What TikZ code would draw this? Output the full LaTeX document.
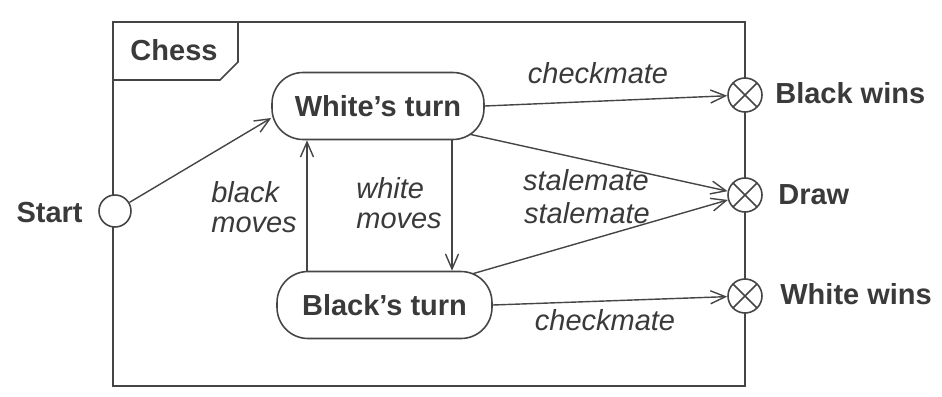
\documentclass[tikz,border=0pt]{standalone}
\usepackage{fontspec}
\setmainfont{Liberation Sans}
\usepackage{tikz}
\usetikzlibrary{calc,arrows.meta}
\usepackage{xcolor}
\definecolor{inkgray}{HTML}{454545}
\definecolor{txtgray}{HTML}{3A3A3A}

\tikzset{
  statebox/.style={draw=inkgray, line width=0.9pt, rounded corners=0.62cm,
    minimum height=1.34cm, font=\fontsize{16.5}{19}\selectfont\bfseries,
    text=txtgray, inner sep=0pt},
  endstate/.style={draw=inkgray, line width=0.9pt, circle, minimum size=0.68cm,
    inner sep=0pt, fill=white,
    path picture={\draw[inkgray, line width=0.9pt]
      (path picture bounding box.north west) -- (path picture bounding box.south east)
      (path picture bounding box.north east) -- (path picture bounding box.south west);}},
  trans/.style={draw=inkgray, line width=0.8pt,
    -{Straight Barb[length=3mm,width=2.6mm,line width=0.8pt]}},
  evlabel/.style={font=\fontsize{16.5}{19}\selectfont\itshape, text=txtgray,
    inner sep=0pt},
  outlabel/.style={font=\fontsize{16.5}{19}\selectfont\bfseries, text=txtgray,
    inner sep=0pt}
}

\begin{document}
\begin{tikzpicture}[x=0.02cm, y=-0.02cm]
  \useasboundingbox (0,0) rectangle (942,396);

  % Frame and name tab
  \draw[inkgray, line width=0.9pt] (113,22) rectangle (745,386);
  \draw[inkgray, line width=0.9pt] (113,80) -- (220,80) -- (238,62) -- (238,22);
  \node[outlabel] (title) at (174,50) {Chess};

  % States
  \node[statebox, minimum width=4.24cm] (white) at (378,106) {White’s turn};
  \node[statebox, minimum width=4.3cm] (black) at (384.5,305) {Black’s turn};

  % Initial state
  \node[draw=inkgray, line width=0.9pt, circle, minimum size=0.64cm, fill=white,
    inner sep=0pt] (start) at (115,211) {};
  \node[outlabel, anchor=east] (startlbl) at (83,213) {Start};

  % Final states on the frame
  \node[endstate] (bwin) at (745,95) {};
  \node[endstate] (draw) at (745,195) {};
  \node[endstate] (wwin) at (745,296) {};
  \node[outlabel, anchor=west] (bwinlbl) at (775,93) {Black wins};
  \node[outlabel, anchor=west] (drawlbl) at (778,195) {Draw};
  \node[outlabel, anchor=west] (wwinlbl) at (780,294) {White wins};

  % Transitions
  \draw[trans] (start) -- ([yshift=-0.24cm]white.west);
  \coordinate (bmx) at (307,0);
  \coordinate (wmx) at (452,0);
  \draw[trans] (black.north -| bmx) -- (white.south -| bmx);
  \draw[trans] (white.south -| wmx) -- (black.north -| wmx);
  \draw[trans] (white.east) -- (bwin);
  \draw[trans] ([xshift=-0.3cm,yshift=0.12cm]white.south east) -- (draw);
  \draw[trans] ([xshift=-0.4cm,yshift=-0.06cm]black.north east) -- (draw);
  \draw[trans] (black.east) -- (wwin);

  % Event labels
  \node[evlabel, align=left, anchor=west] (bmoves) at (211,207) {black\\[-2pt]moves};
  \node[evlabel, align=left, anchor=west] (wmoves) at (356,203) {white\\[-2pt]moves};
  \node[evlabel] (chk1) at (598,73) {checkmate};
  \node[evlabel] (stl1) at (586,180) {stalemate};
  \node[evlabel] (stl2) at (587,213) {stalemate};
  \node[evlabel] (chk2) at (605,320) {checkmate};
\end{tikzpicture}
\end{document}
